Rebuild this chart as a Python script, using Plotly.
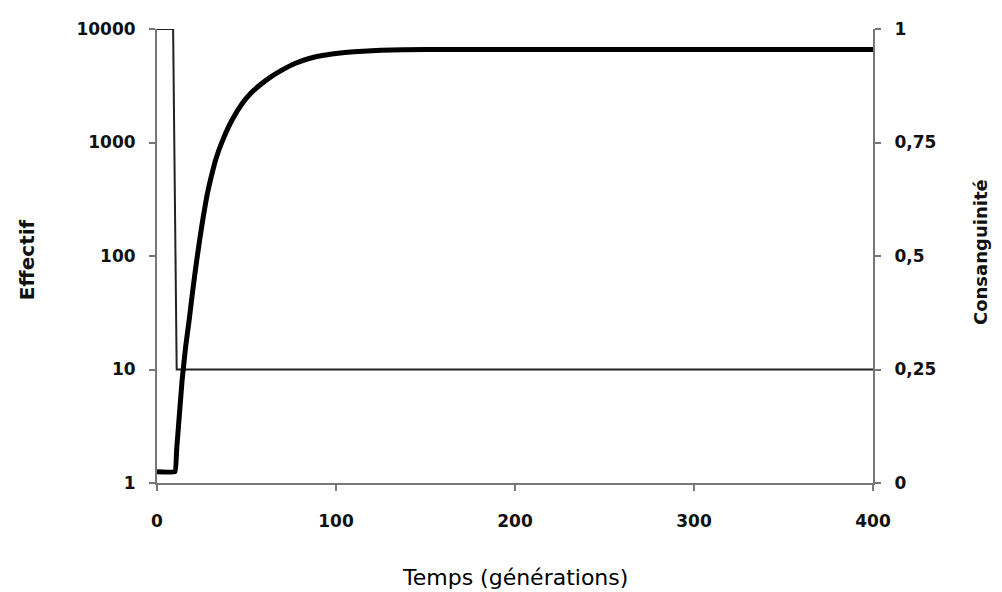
import plotly.graph_objects as go

# Effectif (population size), left log axis
gen_eff = [0, 9, 11, 400]
effectif = [10000, 10000, 10, 10]

# Consanguinité (inbreeding coefficient), right axis
gen_cons = [0, 10, 11, 12, 14, 16, 18, 20, 22, 24, 26, 28, 30, 33, 37, 42, 48, 52, 57, 63, 70, 77, 85, 93, 100, 110, 125, 150, 200, 300, 400]
consang = [0.025, 0.025, 0.075, 0.125, 0.225, 0.30, 0.36, 0.425, 0.485, 0.54, 0.59, 0.635, 0.67, 0.715, 0.758, 0.80, 0.838, 0.857, 0.875, 0.893, 0.91, 0.924, 0.935, 0.942, 0.946, 0.950, 0.953, 0.955, 0.955, 0.955, 0.955]

x_ticks = [0, 100, 200, 300, 400]
y_ticks = [1, 10, 100, 1000, 10000]
y_ticktext = ["1", "10", "100", "1000", "10000"]
y2_ticks = [0, 0.25, 0.5, 0.75, 1]
y2_ticktext = ["0", "0,25", "0,5", "0,75", "1"]

FONT = "Comic Sans MS, DejaVu Sans, sans-serif"

fig = go.Figure()
fig.add_trace(go.Scatter(x=gen_eff, y=effectif, mode="lines",
                         line=dict(color="#222222", width=2), yaxis="y",
                         showlegend=False))
fig.add_trace(go.Scatter(x=gen_cons, y=consang, mode="lines",
                         line=dict(color="#000000", width=5, shape="spline", smoothing=0.3),
                         yaxis="y2", showlegend=False))

axis_common = dict(showgrid=False, zeroline=False, showline=True, linecolor="#777777",
                   linewidth=2, ticks="outside", ticklen=6, tickcolor="#777777",
                   tickwidth=1.5, tickfont=dict(family=FONT, size=17, color="#111111",
                                                weight="bold"))

fig.update_layout(
    width=1002, height=592,
    margin=dict(l=149, r=137, t=21, b=117),
    paper_bgcolor="white", plot_bgcolor="white",
    xaxis=dict(range=[0, 400], tickvals=x_ticks, ticklabelstandoff=16, **axis_common),
    yaxis=dict(type="log", range=[0, 4], tickvals=y_ticks, ticktext=y_ticktext,
               ticklabelstandoff=10, **axis_common),
    yaxis2=dict(range=[0, 1], tickvals=y2_ticks, ticktext=y2_ticktext, overlaying="y",
                side="right", ticklabelstandoff=10, **axis_common),
    annotations=[
        dict(text="Temps (générations)", x=0.5, y=-0.209, xref="paper", yref="paper",
             xanchor="center", yanchor="middle",
             showarrow=False, font=dict(family=FONT, size=22, color="#000000")),
        dict(text="<b>Effectif</b>", x=-0.1816, y=0.493, xref="paper", yref="paper",
             xanchor="center", yanchor="middle",
             showarrow=False, textangle=-90, font=dict(family=FONT, size=20, color="#111111")),
        dict(text="<b>Consanguinité</b>", x=1.151, y=0.509, xref="paper", yref="paper",
             xanchor="center", yanchor="middle",
             showarrow=False, textangle=-90, font=dict(family=FONT, size=18, color="#111111")),
    ],
)

fig.write_html("out.html")
